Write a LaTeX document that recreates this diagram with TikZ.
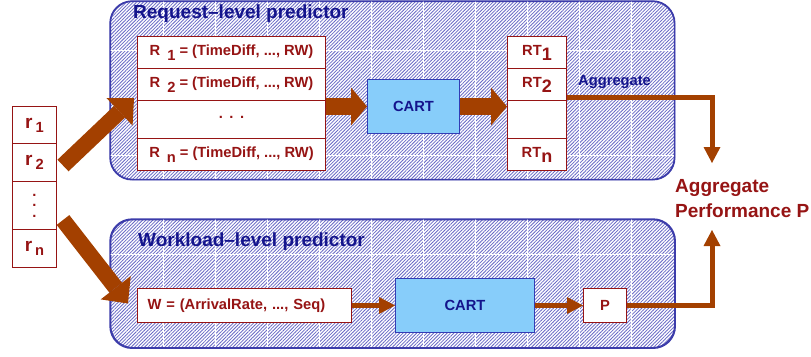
\documentclass[tikz,border=0pt]{standalone}
\usepackage{fontspec}
\setmainfont{Liberation Sans}
\usetikzlibrary{arrows.meta,patterns.meta,calc}

\definecolor{dred}{RGB}{150,20,20}
\definecolor{arrowbrown}{RGB}{163,64,0}
\definecolor{navy}{RGB}{20,20,140}
\definecolor{panelline}{RGB}{60,60,170}
\definecolor{hatch}{RGB}{105,105,198}
\definecolor{cartfill}{RGB}{135,205,250}
\definecolor{cartline}{RGB}{50,60,180}

\newcommand\cellfont{\fontsize{14.7}{17}\selectfont\bfseries}
\newcommand\titlefont{\fontsize{19}{22}\selectfont\bfseries}
\newcommand\reqlabel[1]{{\fontsize{19}{19}\selectfont r}\hspace{3pt}\raisebox{-4pt}{#1}}
\newcommand\rtlabel[1]{RT\raisebox{-5pt}{\fontsize{18}{18}\selectfont #1}}

\begin{document}
\begin{tikzpicture}[x=1pt,y=-1pt,
  panel/.style={draw=panelline, line width=1.3pt, rounded corners=22pt,
    pattern={Lines[angle=45,distance=2.4pt,line width=0.8pt]},
    pattern color=hatch, preaction={fill=white},
    anchor=north west, inner sep=0pt},
  gridline/.style={white, line width=0.7pt},
  cell/.style={draw=dred, fill=white, line width=1pt, inner sep=0pt,
    anchor=north west, text=dred, font=\cellfont},
  cartbox/.style={draw=cartline, fill=cartfill, line width=1pt, inner sep=0pt,
    anchor=north west, text=navy, font=\cellfont},
  title/.style={text=navy, font=\titlefont, anchor=base west, inner sep=0pt},
  bigarrow/.style={arrowbrown, line width=17pt,
    -{Triangle[width=38pt,length=16pt,line width=0pt]}},
  slantarrow/.style={arrowbrown, line width=16pt,
    -{Triangle[width=38pt,length=20pt,line width=0pt]}},
  medarrow/.style={arrowbrown, line width=5pt,
    -{Triangle[width=17pt,length=16pt,line width=0pt]}}
]
\useasboundingbox (0,0) rectangle (811,356);

% the two predictor panels
\node[panel, minimum width=564pt, minimum height=178pt] (reqpanel) at (110,1) {};
\node[panel, minimum width=564pt, minimum height=128pt] (wlpanel) at (110,219) {};

% faint white grid over the hatching
\begin{scope}
  \clip[rounded corners=22pt] (reqpanel.north west) rectangle (reqpanel.south east);
  \foreach \gx in {163,215,...,640} \draw[gridline] (\gx,0) -- (\gx,180);
  \foreach \gy in {50,155} \draw[gridline] (110,\gy) -- (674,\gy);
\end{scope}
\begin{scope}
  \clip[rounded corners=22pt] (wlpanel.north west) rectangle (wlpanel.south east);
  \foreach \gx in {163,215,...,640} \draw[gridline] (\gx,219) -- (\gx,347);
  \foreach \gy in {254} \draw[gridline] (110,\gy) -- (674,\gy);
\end{scope}
\draw[panelline, line width=1.3pt, rounded corners=22pt]
  (reqpanel.north west) rectangle (reqpanel.south east);
\draw[panelline, line width=1.3pt, rounded corners=22pt]
  (wlpanel.north west) rectangle (wlpanel.south east);

% panel titles
\node[title] (reqtitle) at (133,19) {Request–level predictor};
\node[title] (wltitle) at (138,246) {Workload–level predictor};

% input requests
\node[cell, minimum width=44pt, minimum height=37pt] (r1) at (12,106) {\reqlabel{1}};
\node[cell, minimum width=44pt, minimum height=38pt] (r2) at (12,143) {\reqlabel{2}};
\node[cell, minimum width=44pt, minimum height=48pt] (rdots) at (12,181)
  {\makebox[0pt]{\raisebox{10.5pt}{.}}\makebox[0pt]{.}\makebox[0pt]{\raisebox{-10.5pt}{.}}};
\node[cell, minimum width=44pt, minimum height=38pt] (rn) at (12,229) {\reqlabel{n}};

% request feature vectors
\node[cell, minimum width=188pt, minimum height=32pt] (R1) at (137,36)
  {R\hspace{7pt}\raisebox{-5pt}{1} = (TimeDiff, ..., RW)};
\node[cell, minimum width=188pt, minimum height=32pt] (R2) at (137,68)
  {R\hspace{7pt}\raisebox{-5pt}{2} = (TimeDiff, ..., RW)};
\node[cell, minimum width=188pt, minimum height=38pt] (R3) at (137,100)
  {\raisebox{4pt}{.\hspace{6.5pt}.\hspace{6.5pt}.}};
\node[cell, minimum width=188pt, minimum height=32pt] (Rn) at (137,138)
  {R\hspace{7pt}\raisebox{-5pt}{n} = (TimeDiff, ..., RW)};

% request-level model
\node[cartbox, minimum width=92pt, minimum height=54pt] (cartA) at (367,79) {CART};

% predicted response times
\node[cell, minimum width=59pt, minimum height=32pt] (RT1) at (507,36) {\rtlabel{1}};
\node[cell, minimum width=59pt, minimum height=32pt] (RT2) at (507,68) {\rtlabel{2}};
\node[cell, minimum width=59pt, minimum height=38pt] (RT3) at (507,100) {};
\node[cell, minimum width=59pt, minimum height=32pt] (RTn) at (507,138) {\rtlabel{n}};

% workload-level path
\node[cell, minimum width=214pt, minimum height=34pt, text width=194pt,
  align=left, inner xsep=10pt] (W) at (137,288) {W = (ArrivalRate, ..., Seq)};
\node[cartbox, minimum width=139pt, minimum height=54pt] (cartB) at (395,278) {CART};
\node[cell, minimum width=43pt, minimum height=34pt] (P) at (583,288) {P};

% result
\node[text=dred, font=\titlefont, align=left, anchor=base west, inner sep=0pt]
  (aggP) at (675,217) {Aggregate\\[3pt]Performance P};
\node[text=navy, font=\cellfont, anchor=base west, inner sep=0pt]
  (agglabel) at (578,85) {Aggregate};

\coordinate (downTip) at (712,163);
\coordinate (upTip) at (712,230);

% connectors
\draw[slantarrow] ($(r2.east)+(6,3)$) -- ($(R2.south west)+(-3,-3)$);
\draw[slantarrow] ($(rdots.south east)+(6,-10)$) -- ($(W.west)+(-9,-2)$);
\draw[bigarrow] (cartA.west -| R2.east) -- (cartA.west);
\draw[bigarrow] (cartA.east) -- (cartA.east -| RT2.west);
\draw[medarrow] ($(RT2.south east)+(0,-4)$) -| (downTip);
\draw[medarrow] (W.east) -- (cartB.west);
\draw[medarrow] (cartB.east) -- (P.west);
\draw[medarrow] (P.east) -| (upTip);
\end{tikzpicture}
\end{document}
